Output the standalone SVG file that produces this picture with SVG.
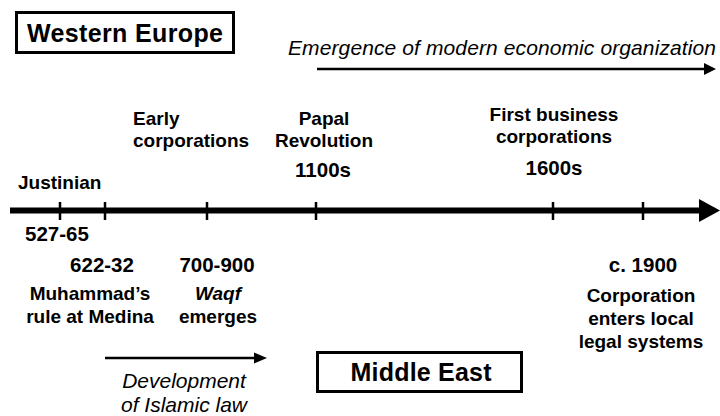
<svg xmlns="http://www.w3.org/2000/svg" width="720" height="416" viewBox="0 0 720 416">
<style>
text{font-family:"Liberation Sans",Arial,sans-serif;fill:#000}
.b{font-weight:bold;font-size:19px}
.y{font-weight:bold;font-size:20.5px}
.h{font-weight:bold;font-size:25px}
.i{font-style:italic;font-size:21px}
.box{fill:#fff;stroke:#000;stroke-width:3}
.tick{stroke:#000;stroke-width:2.5}
</style>
<rect width="720" height="416" fill="#fff"/>
<g id="connectors">
<line x1="10" y1="210.5" x2="701" y2="210.5" stroke="#000" stroke-width="6"/>
<polygon points="699,199 720,210.5 699,222" fill="#000"/>
<line class="tick" x1="60" y1="202" x2="60" y2="220"/>
<line class="tick" x1="105" y1="202" x2="105" y2="220"/>
<line class="tick" x1="207" y1="202" x2="207" y2="220"/>
<line class="tick" x1="316" y1="202" x2="316" y2="220"/>
<line class="tick" x1="553" y1="202" x2="553" y2="220"/>
<line class="tick" x1="643" y1="202" x2="643" y2="220"/>
<line x1="317" y1="69" x2="706" y2="69" stroke="#000" stroke-width="2.5"/>
<polygon points="704,63 716,69 704,75" fill="#000"/>
<line x1="105" y1="358" x2="256" y2="358" stroke="#000" stroke-width="2.5"/>
<polygon points="254,352.5 267,358 254,363.5" fill="#000"/>
</g>
<g id="western-europe">
<rect class="box" x="16.5" y="12.5" width="217" height="40"/>
<text class="h" x="125" y="42" text-anchor="middle" textLength="196" lengthAdjust="spacing">Western Europe</text>
</g>
<g id="middle-east">
<rect class="box" x="317.5" y="352.5" width="204" height="39"/>
<text class="h" x="421" y="381" text-anchor="middle" textLength="141" lengthAdjust="spacing">Middle East</text>
</g>
<g id="emergence">
<text class="i" x="502" y="55" text-anchor="middle" textLength="428" lengthAdjust="spacing">Emergence of modern economic organization</text>
</g>
<g id="development">
<text class="i" x="184" y="388" text-anchor="middle">Development</text>
<text class="i" x="184" y="412" text-anchor="middle">of Islamic law</text>
</g>
<g id="justinian">
<text class="b" x="18" y="189">Justinian</text>
<text class="y" x="25" y="241">527-65</text>
</g>
<g id="early-corporations">
<text class="b" x="133" y="125">Early</text>
<text class="b" x="133" y="147">corporations</text>
</g>
<g id="papal-revolution">
<text class="b" x="324" y="125" text-anchor="middle">Papal</text>
<text class="b" x="324" y="147" text-anchor="middle">Revolution</text>
<text class="y" x="323" y="177" text-anchor="middle">1100s</text>
</g>
<g id="first-business">
<text class="b" x="554" y="121" text-anchor="middle">First business</text>
<text class="b" x="554" y="143" text-anchor="middle">corporations</text>
<text class="y" x="554" y="175" text-anchor="middle">1600s</text>
</g>
<g id="muhammad">
<text class="y" x="102" y="272" text-anchor="middle">622-32</text>
<text class="b" x="90" y="300" text-anchor="middle">Muhammad’s</text>
<text class="b" x="90" y="323" text-anchor="middle">rule at Medina</text>
</g>
<g id="waqf">
<text class="y" x="217" y="272" text-anchor="middle">700-900</text>
<text class="b" x="218" y="300" text-anchor="middle" font-style="italic">Waqf</text>
<text class="b" x="218" y="323" text-anchor="middle">emerges</text>
</g>
<g id="c1900">
<text class="y" x="643" y="272" text-anchor="middle">c. 1900</text>
<text class="b" x="641" y="302" text-anchor="middle">Corporation</text>
<text class="b" x="641" y="325" text-anchor="middle">enters local</text>
<text class="b" x="641" y="348" text-anchor="middle">legal systems</text>
</g>
</svg>
